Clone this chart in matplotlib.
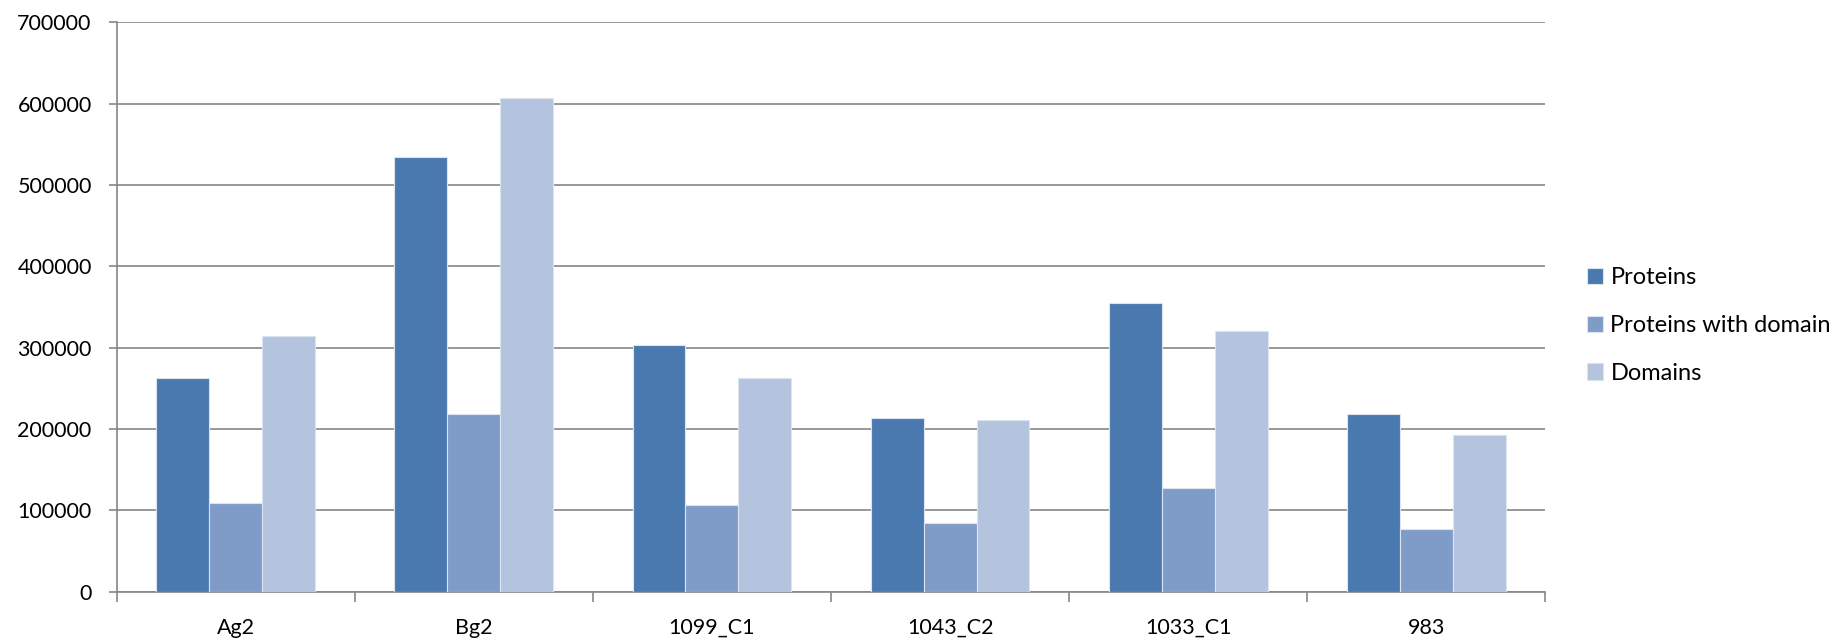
import numpy as np
import matplotlib
matplotlib.use("Agg")
import matplotlib.pyplot as plt

# Data
categories = ["Ag2", "Bg2", "1099_C1", "1043_C2", "1033_C1", "983"]
proteins = [263000, 534000, 303000, 214000, 355000, 219000]
proteins_with_domain = [109000, 218000, 106000, 84000, 128000, 77000]
domains = [314000, 607000, 263000, 211000, 320000, 193000]
series_names = ["Proteins", "Proteins with domain", "Domains"]
colors = ["#4A79B0", "#7F9CC8", "#B4C3DE"]

plt.rcParams['font.family'] = ['Lato', 'DejaVu Sans']

fig = plt.figure(figsize=(18.43, 6.41), dpi=100)
ax = fig.add_axes([0.0633, 0.0769, 0.7752, 0.8883])

x = np.arange(len(categories))
bw = 1 / 4.5
grid_c = "#868686"
for i, (vals, name, c) in enumerate(zip([proteins, proteins_with_domain, domains], series_names, colors)):
    ax.bar(x + (i - 1) * bw, vals, width=bw, color=c, edgecolor="#DCE4F0",
           linewidth=0.8, label=name, zorder=3)

ax.set_xlim(-0.5, len(categories) - 0.5)
ax.set_ylim(0, 700000)
ax.set_yticks(np.arange(0, 700001, 100000))
ax.set_yticklabels([str(v) for v in range(0, 700001, 100000)])
ax.yaxis.grid(True, color=grid_c, linewidth=1.2, zorder=0)
ax.set_axisbelow(True)

ax.set_xticks(np.arange(-0.5, len(categories), 1.0))
ax.set_xticklabels([])
ax.set_xticks(x, minor=True)
ax.set_xticklabels(categories, minor=True)
ax.tick_params(axis='x', which='major', direction='out', length=7, width=1.2, color=grid_c)
ax.tick_params(axis='x', which='minor', length=0, pad=19, labelsize=15.5)
ax.tick_params(axis='y', direction='out', length=6, width=1.2, color=grid_c, pad=12, labelsize=15.5)

for s in ['top', 'right']:
    ax.spines[s].set_visible(False)
for s in ['left', 'bottom']:
    ax.spines[s].set_color(grid_c)
    ax.spines[s].set_linewidth(1.2)

fig.legend(loc='center left', bbox_to_anchor=(0.8497, 0.492), frameon=False,
           fontsize=17, handlelength=0.68, handleheight=0.68,
           handletextpad=0.3, labelspacing=1.13)

fig.savefig("out.png", dpi=100, facecolor="white")
